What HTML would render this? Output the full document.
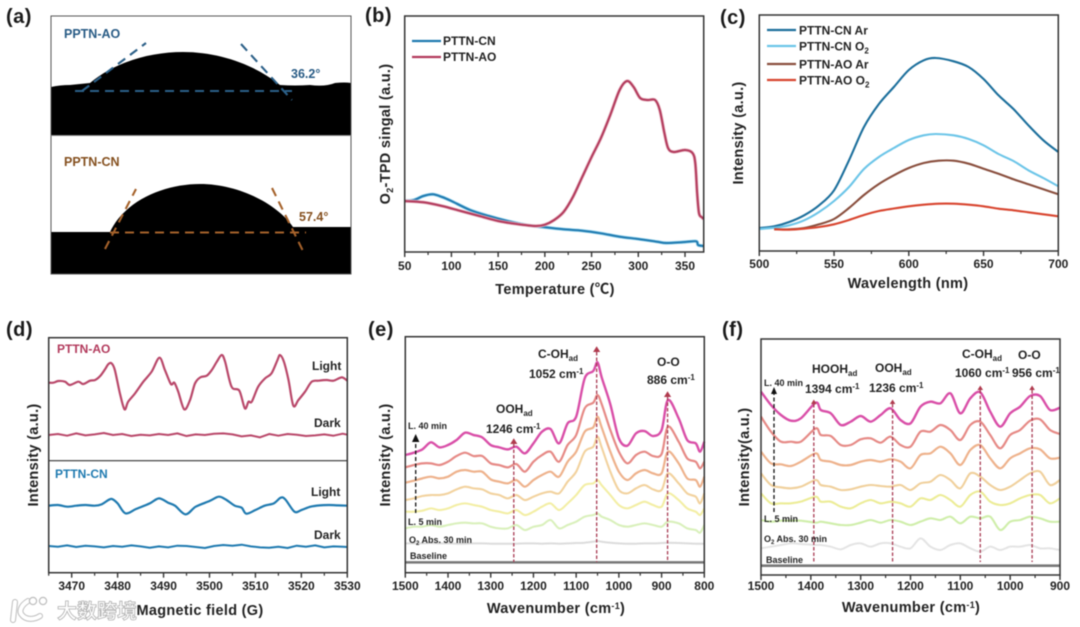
<!DOCTYPE html>
<html lang="en">
<head>
<meta charset="utf-8">
<title>Six-panel materials characterization figure</title>
<style>
html,body{margin:0;padding:0;background:#fff;width:1080px;height:627px;overflow:hidden}
svg{display:block;filter:blur(0.45px)}
text{font-family:"Liberation Sans","Noto Sans CJK SC",sans-serif;font-weight:bold;fill:#222}
.tick{font-size:12px}
.title{font-size:14.5px;letter-spacing:.3px}
.leg{font-size:12px}
.ann{font-size:12px}
.small{font-size:9px}
.plabel{font-size:20px;letter-spacing:.5px;fill:#1a1a1a}
.frame{fill:none;stroke:#333;stroke-width:1.5}
</style>
</head>
<body>
<svg id="figure" width="1080" height="627" viewBox="0 0 1080 627" xmlns="http://www.w3.org/2000/svg">

<g>
  <text class="plabel" x="6" y="23">(a)</text>
  <rect x="51" y="16" width="300" height="258" fill="#fff"/>
  <path fill="#000" d="M51,87 Q60,85 70,85 Q80,84 90,83 C115,62 150,52 183,52 C220,52 255,65 280,85 Q295,86 310,85 Q325,87 335,83 Q345,82 351,83 L351,135 L51,135 Z"/>
  <path fill="#000" d="M51,232 L110,232 C125,200 165,184 200,184 C240,184 278,205 293,227 L351,227 L351,274 L51,274 Z"/>
  <g fill="none" stroke="#2c6088" stroke-width="2.1" stroke-dasharray="9 6">
    <line x1="75" y1="91" x2="292" y2="91"/>
    <line x1="82" y1="91" x2="146" y2="43"/>
    <line x1="241" y1="44" x2="292" y2="100"/>
  </g>
  <g fill="none" stroke="#a5622b" stroke-width="2.1" stroke-dasharray="9 6">
    <line x1="110" y1="232.5" x2="306" y2="232.5"/>
    <line x1="105" y1="249" x2="136" y2="189"/>
    <line x1="272" y1="188" x2="303" y2="251"/>
  </g>
  <text x="64" y="38" style="font-size:12.5px;fill:#285b85">PPTN-AO</text>
  <text x="291" y="78" style="font-size:12.5px;fill:#285b85">36.2°</text>
  <text x="64" y="166" style="font-size:12.5px;fill:#85501f">PPTN-CN</text>
  <text x="299" y="221" style="font-size:12.5px;fill:#85501f">57.4°</text>
  <rect x="51" y="16" width="300" height="258" fill="none" stroke="#555" stroke-width="1"/>
  <line x1="51" y1="135.5" x2="351" y2="135.5" stroke="#888" stroke-width="1"/>
</g>

<g id="panel-b">
  <text class="plabel" x="365" y="22">(b)</text>
  <text class="title" x="555" y="294" text-anchor="middle">Temperature (℃)</text>
  <text class="title" transform="translate(390,134) rotate(-90)" text-anchor="middle">O<tspan dy="3" style="font-size:9px">2</tspan><tspan dy="-3">-TPD singal (a.u.)</tspan></text>
  <line x1="412" y1="41" x2="441" y2="41" stroke="#1f7ab0" stroke-width="2.2"/>
  <text class="leg" x="443" y="45">PTTN-CN</text>
  <line x1="412" y1="57" x2="441" y2="57" stroke="#b23a5c" stroke-width="2.2"/>
  <text class="leg" x="443" y="61">PTTN-AO</text>
</g>

<g id="panel-c">
  <text class="plabel" x="720" y="24">(c)</text>
  <text class="title" x="908" y="288" text-anchor="middle">Wavelength (nm)</text>
  <text class="title" transform="translate(743,133) rotate(-90)" text-anchor="middle">Intensity (a.u.)</text>
  <line x1="767" y1="30" x2="796" y2="30" stroke="#1c6f9c" stroke-width="2.2"/>
  <text class="leg" x="799" y="34.5">PTTN-CN Ar</text>
  <line x1="767" y1="46" x2="796" y2="46" stroke="#6cc5e8" stroke-width="2.2"/>
  <text class="leg" x="799" y="50.5">PTTN-CN O<tspan dy="3" style="font-size:8px">2</tspan></text>
  <line x1="767" y1="64" x2="796" y2="64" stroke="#8a4f3e" stroke-width="2.2"/>
  <text class="leg" x="799" y="68.5">PTTN-AO Ar</text>
  <line x1="767" y1="80" x2="796" y2="80" stroke="#d8452f" stroke-width="2.2"/>
  <text class="leg" x="799" y="84.5">PTTN-AO O<tspan dy="3" style="font-size:8px">2</tspan></text>
</g>

<g id="panel-d">
  <text class="plabel" x="6" y="336">(d)</text>
  <text class="title" x="200" y="615" text-anchor="middle">Magnetic field (G)</text>
  <text class="title" transform="translate(38,455) rotate(-90)" text-anchor="middle">Intensity (a.u.)</text>
  <text class="leg" x="57" y="353" style="fill:#b23a5c">PTTN-AO</text>
  <text class="leg" x="55" y="478" style="fill:#1f7ab0">PTTN-CN</text>
  <text class="leg" x="312" y="370">Light</text>
  <text class="leg" x="314" y="427">Dark</text>
  <text class="leg" x="311" y="496">Light</text>
  <text class="leg" x="314" y="539">Dark</text>
  <line x1="48.7" y1="460.7" x2="347.3" y2="460.7" stroke="#333" stroke-width="1.2"/>
</g>

<g id="panel-e">
  <text class="plabel" x="368" y="336">(e)</text>
  <text class="title" x="556" y="613" text-anchor="middle">Wavenumber (cm<tspan dy="-4" style="font-size:9px">-1</tspan><tspan dy="4">)</tspan></text>
  <text class="title" transform="translate(390,455) rotate(-90)" text-anchor="middle">Intensity (a.u.)</text>
</g>

<g id="panel-f">
  <text class="plabel" x="722" y="336">(f)</text>
  <text class="title" x="911" y="612" text-anchor="middle">Wavenumber (cm<tspan dy="-4" style="font-size:9px">-1</tspan><tspan dy="4">)</tspan></text>
  <text class="title" transform="translate(749,457) rotate(-90)" text-anchor="middle">Intensity(a.u.)</text>
</g>

<g id="overlay">
  <g>
    <text class="ann" x="496" y="413">OOH<tspan dy="3" style="font-size:8px">ad</tspan></text>
    <text class="ann" x="486" y="433">1246 cm<tspan dy="-4" style="font-size:8px">-1</tspan></text>
    <text class="ann" x="538" y="358">C-OH<tspan dy="3" style="font-size:8px">ad</tspan></text>
    <text class="ann" x="529" y="378">1052 cm<tspan dy="-4" style="font-size:8px">-1</tspan></text>
    <text class="ann" x="657" y="366">O-O</text>
    <text class="ann" x="647" y="384">886 cm<tspan dy="-4" style="font-size:8px">-1</tspan></text>
    <text class="small" x="408" y="429">L. 40 min</text>
    <text class="small" x="408" y="525">L. 5 min</text>
    <text class="small" x="409" y="543">O<tspan dy="2" style="font-size:6px">2</tspan><tspan dy="-2"> Abs. 30 min</tspan></text>
    <text class="small" x="410" y="559">Baseline</text>
    <line x1="415.7" y1="513" x2="415.7" y2="441" stroke="#111" stroke-width="1.3" stroke-dasharray="4 2.5"/>
    <path d="M415.7,434 L412,442 L419.4,442 Z" fill="#111"/>
  </g>
  <g>
    <text class="ann" x="812" y="373">HOOH<tspan dy="3" style="font-size:8px">ad</tspan></text>
    <text class="ann" x="805" y="393">1394 cm<tspan dy="-4" style="font-size:8px">-1</tspan></text>
    <text class="ann" x="875" y="372">OOH<tspan dy="3" style="font-size:8px">ad</tspan></text>
    <text class="ann" x="869" y="392">1236 cm<tspan dy="-4" style="font-size:8px">-1</tspan></text>
    <text class="ann" x="962" y="358">C-OH<tspan dy="3" style="font-size:8px">ad</tspan></text>
    <text class="ann" x="955" y="377">1060 cm<tspan dy="-4" style="font-size:8px">-1</tspan></text>
    <text class="ann" x="1018" y="359">O-O</text>
    <text class="ann" x="1012" y="377">956 cm<tspan dy="-4" style="font-size:8px">-1</tspan></text>
    <text class="small" x="764" y="386">L. 40 min</text>
    <text class="small" x="764" y="522">L. 5 min</text>
    <text class="small" x="764" y="542">O<tspan dy="2" style="font-size:6px">2</tspan><tspan dy="-2"> Abs. 30 min</tspan></text>
    <text class="small" x="766" y="563">Baseline</text>
    <line x1="774" y1="512" x2="774" y2="393" stroke="#111" stroke-width="1.3" stroke-dasharray="4 2.5"/>
    <path d="M774,387 L771,394 L777,394 Z" fill="#111"/>
  </g>
  <g>
    <path d="M15,602 L13,620 M28,601 C20,606 19,612 22,615 C26,620 34,620 40,616" fill="none" stroke="#bdbdbd" stroke-width="6" stroke-linecap="round"/>
    <path d="M15,602 L13,620 M28,601 C20,606 19,612 22,615 C26,620 34,620 40,616" fill="none" stroke="#fff" stroke-width="4" stroke-linecap="round"/>
    <circle cx="33" cy="601" r="3.6" fill="#fff" stroke="#bdbdbd" stroke-width="1.2"/>
    <circle cx="43" cy="601" r="3.6" fill="#fff" stroke="#bdbdbd" stroke-width="1.2"/>
    <text x="57" y="618" style="font-size:20px;font-weight:bold;fill:#fff;stroke:#b0b0b0;stroke-width:.8px">大数跨境</text>
  </g>
</g>

<script>
// ---------- panel b data ----------
const bCnTemp = [50,60,70,80,90,100,120,140,160,180,200,220,240,260,280,300,320,330,350,362,364,370];
const bCnSignal = [51,52,56,57.7,55,51,42,36,31,27,24.7,22.7,21.3,18.7,15.3,13,10.3,9,10,10.7,7,6];
const bAoTemp = [50,70,90,110,130,150,170,190,200,210,220,230,240,250,260,270,280,288,295,302,310,318,323,328,332,338,350,358,361,363,365,368,370];
const bAoSignal = [51,49.7,46,41,36,31,28,26,27.3,32,40,55,75,95,114,137,162,171,165,154,152,152,142,118.7,103.7,100,102,99,88.7,58.7,38.7,34.7,33];
const bTicks = [50,100,150,200,250,300,350];
const bMinorTicks = [75,125,175,225,275,325];
// ---------- panel c data ----------
const cNm = [500,510,520,530,540,550,560,570,580,590,600,610,618,630,640,650,660,670,680,690,700];
const cCnAr = [23,24.7,29,35.7,45.7,60.7,90.7,124,147,164,181,190.7,193,189.7,184,172,155.7,142,125.7,110.7,99];
const cCnO2 = [22,23.3,25.7,30.7,39,50,64,82,94,103,111,115.7,117,115.7,112,105.7,97,90,80.7,73,64.7];
const cAoNm = [510,520,530,540,550,560,570,580,590,600,610,620,630,640,650,660,670,680,690,700];
const cAoAr = [21.7,21.7,23,26.7,32,43,56,67,75.7,83,88,90.3,90.3,87.3,82.3,77.3,71.7,66.7,61.7,56.7];
const cAoO2 = [21.7,21.3,22.3,24,26.7,31,36,40,42.5,44.7,46.3,47.3,47.3,46.3,44.7,42.3,40.7,38.7,36.7,34.7];
const cTicks = [500,550,600,650,700];
const cMinorTicks = [525,575,625,675];
// ---------- panel d data ----------
const dAoField = [3465,3466,3467.1,3468.55,3469.6,3471.45,3472.5,3474,3475.1,3476.2,3477.25,3478,3478.7,3479.4,3480.5,3481.5,3482.3,3483.8,3485.6,3487.4,3489.1,3490.3,3491.6,3492.35,3493.2,3494.5,3495.76,3496.85,3498,3499.4,3500.5,3501.6,3502.65,3503.4,3504.8,3506.5,3507.7,3508.5,3509.2,3510.6,3512.1,3513.5,3514.8,3515.35,3516.2,3517.2,3518.25,3519.35,3520.8,3522.25,3523.7,3525.5,3527,3528.8,3530];
const dLightAo = [570,570,575,573,563,573,566,576,578,590,610,626,628,608,538,490,513,538,573,603,645,608,566,570,543,490,518,568,586,591,608,633,653,633,558,546,493,513,513,558,583,598,638,653,633,578,501,518,543,573,576,578,576,586,576];
const dField = [3465,3467,3469,3471,3473,3475,3476.5,3478,3478.8,3480,3481.7,3484,3487,3489,3491,3492.5,3494.8,3497,3500,3502,3503.5,3505.5,3507,3508,3510,3512,3514,3515.5,3516.5,3518.5,3520,3522,3524,3526,3528,3530];
const dLightCn = [201,203,198,201,203,201,205,218,221,208,178,191,208,223,210,201,175,198,215,228,220,201,195,177,188,201,208,225,220,183,188,198,202,203,202,201];
const dDarkField = [3465,3467,3469,3471,3473,3475,3477,3479,3481,3483,3485,3487,3489,3491,3493,3495,3497,3499,3501,3503,3505,3507,3509,3511,3513,3515,3517,3519,3521,3523,3525,3527,3529,3530];
const dDarkAo = [413,416,411,418,412,415,419,413,416,410,414,412,416,413,418,410,415,413,417,418,415,409,412,406,416,411,416,414,410,412,415,411,417,414];
const dDarkCn = [80,78,82,77,81,79,76,80,78,82,79,75,79,76,81,80,77,74,80,83,81,84,79,76,75,78,74,81,78,82,76,79,78,77];
const dTicks = [3470,3480,3490,3500,3510,3520,3530];
const dMinorTicks = [3465,3475,3485,3495,3505,3515,3525];
// ---------- panel e data ----------
const eWave = [1500,1480,1460,1440,1420,1400,1380,1360,1340,1320,1300,1280,1260,1240,1220,1200,1180,1160,1140,1120,1100,1080,1060,1050,1040,1020,1000,980,960,940,920,900,885,860,840,820,810,800];
const eMin40 = [353,360,370,391,376,383,398,420,413,406,383,376,370,378,358,388,423,431,388,448,468,583,605,631,585,505,403,381,418,425,410,428,518,463,398,388,363,393];
const eMin32 = [316,323,328,328,323,333,350,360,350,350,328,323,316,326,303,333,353,363,333,383,413,493,510,533,505,428,363,328,353,363,350,356,438,393,343,333,313,333];
const eMin25 = [270,276,283,288,283,288,303,308,303,303,280,273,268,278,258,278,293,303,288,333,363,423,436,468,435,363,303,278,298,308,298,298,363,328,283,278,258,288];
const eMin18 = [218,223,230,233,233,238,250,258,253,250,238,233,223,233,218,228,238,243,238,273,303,363,378,408,375,303,248,238,253,263,250,248,298,268,238,228,208,238];
const eMin11 = [183,183,186,193,188,193,203,208,203,198,188,183,178,188,173,183,198,208,188,208,233,263,268,278,262,233,203,193,203,213,203,198,238,218,193,183,173,193];
const eMin5 = [133,138,138,143,138,143,148,150,148,148,138,133,133,143,128,138,143,158,133,143,153,168,173,178,168,158,143,138,143,148,143,138,153,148,133,128,120,143];
const eAbs = [88,88,88,89,88,88,87,87,88,88,87,87,87,87,88,88,87,88,87,88,89,90,93,95,93,90,88,87,87,88,88,89,90,89,88,87,87,87];
const eBase = [31,31,31,31,31,31,31,31,31,31,31,31,31,31,31,31,31,31,31,31,31,31,31,31,31,31,31,31,31,31,31,31,31,31,31,31,31,31];
const ePeaks = [1246,1052,886];
const eTicks = [1500,1400,1300,1200,1100,1000,900,800];
const eMinorTicks = [1450,1350,1250,1150,1050,950,850];
// ---------- panel f data ----------
const fWave = [1500,1480,1460,1440,1420,1390,1380,1360,1340,1320,1300,1280,1260,1240,1220,1200,1180,1160,1140,1120,1100,1080,1060,1040,1020,1000,980,960,940,920,900];
const fMin40 = [550,510,480,463,470,517,495,485,450,460,477,460,480,500,465,455,505,520,515,545,485,530,548,490,445,485,505,537,537,495,502];
const fMin32 = [475,430,400,400,400,440,420,417,390,390,407,410,397,415,390,385,430,430,450,435,405,450,460,420,380,420,435,463,467,435,423];
const fMin25 = [370,335,332,327,340,365,345,340,330,330,340,345,340,347,340,320,360,365,385,365,330,375,390,350,320,350,365,380,377,350,352];
const fMin18 = [305,270,263,260,265,285,270,265,255,257,265,270,267,265,270,255,275,280,300,285,260,305,295,270,255,265,285,305,310,270,285];
const fMin11 = [245,215,215,215,220,235,220,220,205,200,215,225,215,220,215,205,230,225,240,225,205,240,250,220,210,215,230,240,240,215,230];
const fMin5 = [165,160,163,163,163,157,160,155,150,150,157,165,157,165,160,150,160,170,165,175,155,175,170,175,135,160,165,175,170,160,160];
const fAbs = [80,85,90,95,93,90,90,85,77,90,95,85,95,95,85,80,110,85,75,90,95,80,70,85,75,85,85,90,80,80,75];
const fBase = [28,28,28,28,28,28,28,28,28,28,28,28,28,28,28,28,28,28,28,28,28,28,28,28,28,28,28,28,28,28,28];
const fPeaks = [1394,1236,1060,956];
const fTicks = [1500,1400,1300,1200,1100,1000,900];
const fMinorTicks = [1450,1350,1250,1150,1050,950];

const SVGNS = 'http://www.w3.org/2000/svg';

function linear(d0, d1, r0, r1) {
  return function (v) { return r0 + (v - d0) / (d1 - d0) * (r1 - r0); };
}

function smoothPath(pts) {
  let d = 'M' + pts[0][0].toFixed(2) + ',' + pts[0][1].toFixed(2);
  for (let i = 0; i < pts.length - 1; i++) {
    const p0 = pts[Math.max(i - 1, 0)], p1 = pts[i], p2 = pts[i + 1], p3 = pts[Math.min(i + 2, pts.length - 1)];
    const k = 0.16;
    d += ' C' + (p1[0] + (p2[0] - p0[0]) * k).toFixed(2) + ',' + (p1[1] + (p2[1] - p0[1]) * k).toFixed(2) +
         ' ' + (p2[0] - (p3[0] - p1[0]) * k).toFixed(2) + ',' + (p2[1] - (p3[1] - p1[1]) * k).toFixed(2) +
         ' ' + p2[0].toFixed(2) + ',' + p2[1].toFixed(2);
  }
  return d;
}

function drawSeries(parent, xs, ys, sx, sy, color, width, name, smooth) {
  const pts = xs.map(function (x, i) { return [sx(x), sy(ys[i])]; });
  const path = document.createElementNS(SVGNS, 'path');
  
  
  path.setAttribute('fill', 'none');
  path.setAttribute('stroke', color);
  path.setAttribute('stroke-width', width);
  path.setAttribute('stroke-linejoin', 'round');
  path.setAttribute('d', smooth ? smoothPath(pts) : 'M' + pts.map(function (p) { return p[0].toFixed(2) + ',' + p[1].toFixed(2); }).join(' L'));
  parent.appendChild(path);
}

function drawAxis(parent, majors, minors, sx, bottom, labelY, prefix) {
  majors.forEach(function (t) {
    const tick = document.createElementNS(SVGNS, 'line');
    
    
    tick.setAttribute('x1', sx(t));
    tick.setAttribute('x2', sx(t));
    tick.setAttribute('y1', bottom);
    tick.setAttribute('y2', bottom + 5);
    tick.setAttribute('stroke', '#333');
    tick.setAttribute('stroke-width', '1.4');
    parent.appendChild(tick);
    const label = document.createElementNS(SVGNS, 'text');
    
    
    label.setAttribute('class', 'tick');
    label.setAttribute('x', sx(t));
    label.setAttribute('y', labelY);
    label.setAttribute('text-anchor', 'middle');
    label.textContent = String(t);
    parent.appendChild(label);
  });
  minors.forEach(function (t) {
    const tick = document.createElementNS(SVGNS, 'line');
    
    
    tick.setAttribute('x1', sx(t));
    tick.setAttribute('x2', sx(t));
    tick.setAttribute('y1', bottom);
    tick.setAttribute('y2', bottom + 3);
    tick.setAttribute('stroke', '#333');
    tick.setAttribute('stroke-width', '1.2');
    parent.appendChild(tick);
  });
}

function drawFrame(parent, l, t, r, b, name) {
  const rect = document.createElementNS(SVGNS, 'rect');
  
  
  rect.setAttribute('class', 'frame');
  rect.setAttribute('x', l);
  rect.setAttribute('y', t);
  rect.setAttribute('width', r - l);
  rect.setAttribute('height', b - t);
  parent.appendChild(rect);
}

function drawPeakMarker(parent, wave, sx, topY, bottomY, size, prefix) {
  const x = sx(wave);
  const line = document.createElementNS(SVGNS, 'line');
  
  
  line.setAttribute('x1', x);
  line.setAttribute('x2', x);
  line.setAttribute('y1', topY);
  line.setAttribute('y2', bottomY);
  line.setAttribute('stroke', '#a83a52');
  line.setAttribute('stroke-width', '1.3');
  line.setAttribute('stroke-dasharray', '3.5 2');
  parent.appendChild(line);
  const tri = document.createElementNS(SVGNS, 'path');
  
  
  tri.setAttribute('fill', '#b03a4e');
  tri.setAttribute('d', 'M' + x + ',' + (topY - size * 1.6) + ' L' + (x - size) + ',' + topY + ' L' + (x + size) + ',' + topY + ' Z');
  parent.appendChild(tri);
}

const gB = document.getElementById('panel-b');
const gC = document.getElementById('panel-c');
const gD = document.getElementById('panel-d');
const gE = document.getElementById('panel-e');
const gF = document.getElementById('panel-f');

// panel b
const bx = linear(50, 370, 404.7, 703.7);
const by = linear(0, 236, 252, 16);
drawSeries(gB, bCnTemp, bCnSignal, bx, by, '#9fd8ef', 3.4, 'series-cn-halo', true);
drawSeries(gB, bCnTemp, bCnSignal, bx, by, '#1f7ab0', 2, 'series-cn', true);
drawSeries(gB, bAoTemp, bAoSignal, bx, by, '#e8b7c3', 3.4, 'series-ao-halo', true);
drawSeries(gB, bAoTemp, bAoSignal, bx, by, '#b23a5c', 2, 'series-ao', true);
drawFrame(gB, 404.7, 16, 703.7, 252, 'plot-frame-b');
drawAxis(gB, bTicks, bMinorTicks, bx, 252, 270, 'x-axis-b');

// panel c
const cx = linear(500, 700, 759.3, 1058.3);
const cy = linear(0, 236, 251, 15);
drawSeries(gC, cNm, cCnAr, cx, cy, '#1c6f9c', 2.1, 'series-cn-ar', true);
drawSeries(gC, cNm, cCnO2, cx, cy, '#6cc5e8', 2.1, 'series-cn-o2', true);
drawSeries(gC, cAoNm, cAoAr, cx, cy, '#8a4f3e', 2.1, 'series-ao-ar', true);
drawSeries(gC, cAoNm, cAoO2, cx, cy, '#d8452f', 2.1, 'series-ao-o2', true);
drawFrame(gC, 759.3, 15, 1058.3, 251, 'plot-frame-c');
drawAxis(gC, cTicks, cMinorTicks, cx, 251, 268, 'x-axis-c');

// panel d
const dx = linear(3465, 3530, 48.7, 347.3);
const dy = linear(0, 705, 572.7, 337.7);
drawSeries(gD, dAoField, dLightAo, dx, dy, '#b9486a', 2.2, 'series-light-ao', true);
drawSeries(gD, dDarkField, dDarkAo, dx, dy, '#b9486a', 2, 'series-dark-ao', false);
drawSeries(gD, dField, dLightCn, dx, dy, '#1f7ab0', 2.2, 'series-light-cn', true);
drawSeries(gD, dDarkField, dDarkCn, dx, dy, '#1f7ab0', 2, 'series-dark-cn', false);
drawFrame(gD, 48.7, 337.7, 347.3, 572.7, 'plot-frame-d');
drawAxis(gD, dTicks, dMinorTicks, dx, 572.7, 590, 'x-axis-d');

// panel e
const ex = linear(1500, 800, 405.3, 704.3);
const ey = linear(0, 708, 572.7, 336.7);
drawSeries(gE, eWave, eBase, ex, ey, '#777', 2.6, 'series-baseline', false);
drawSeries(gE, eWave, eAbs, ex, ey, '#dcdcdc', 2, 'series-o2-abs', true);
drawSeries(gE, eWave, eMin5, ex, ey, '#d9f0bb', 2.1, 'series-5-min', true);
drawSeries(gE, eWave, eMin11, ex, ey, '#f3eea4', 2.1, 'series-11-min', true);
drawSeries(gE, eWave, eMin18, ex, ey, '#f2d29e', 2.1, 'series-18-min', true);
drawSeries(gE, eWave, eMin25, ex, ey, '#eeb28c', 2.2, 'series-25-min', true);
drawSeries(gE, eWave, eMin32, ex, ey, '#e68a86', 2.2, 'series-32-min', true);
drawSeries(gE, eWave, eMin40, ex, ey, '#d94fa8', 2.4, 'series-40-min', true);
drawFrame(gE, 405.3, 336.7, 704.3, 572.7, 'plot-frame-e');
drawAxis(gE, eTicks, eMinorTicks, ex, 572.7, 590, 'x-axis-e');
const eTops = [444, 352, 397];
ePeaks.forEach(function (w, i) {
  drawPeakMarker(gE, w, ex, eTops[i], 562, 3.6, 'wavenumber-' + w);
});

// panel f
const fx = linear(1500, 900, 761, 1060);
const fy = linear(0, 708, 575, 339);
drawSeries(gF, fWave, fBase, fx, fy, '#777', 2.6, 'series-baseline', false);
drawSeries(gF, fWave, fAbs, fx, fy, '#e4e4e4', 2, 'series-o2-abs', true);
drawSeries(gF, fWave, fMin5, fx, fy, '#cfeeaa', 2.1, 'series-5-min', true);
drawSeries(gF, fWave, fMin11, fx, fy, '#ecec96', 2.1, 'series-11-min', true);
drawSeries(gF, fWave, fMin18, fx, fy, '#f0d09c', 2.1, 'series-18-min', true);
drawSeries(gF, fWave, fMin25, fx, fy, '#eeb28c', 2.2, 'series-25-min', true);
drawSeries(gF, fWave, fMin32, fx, fy, '#e68a86', 2.2, 'series-32-min', true);
drawSeries(gF, fWave, fMin40, fx, fy, '#d94fa8', 2.4, 'series-40-min', true);
drawFrame(gF, 761, 339, 1060, 575, 'plot-frame-f');
drawAxis(gF, fTicks, fMinorTicks, fx, 575, 590, 'x-axis-f');
const fTops = [404, 404, 390, 390];
fPeaks.forEach(function (w, i) {
  drawPeakMarker(gF, w, fx, fTops[i], 562, 2.8, 'wavenumber-' + w);
});
</script>
</svg>
</body>
</html>
